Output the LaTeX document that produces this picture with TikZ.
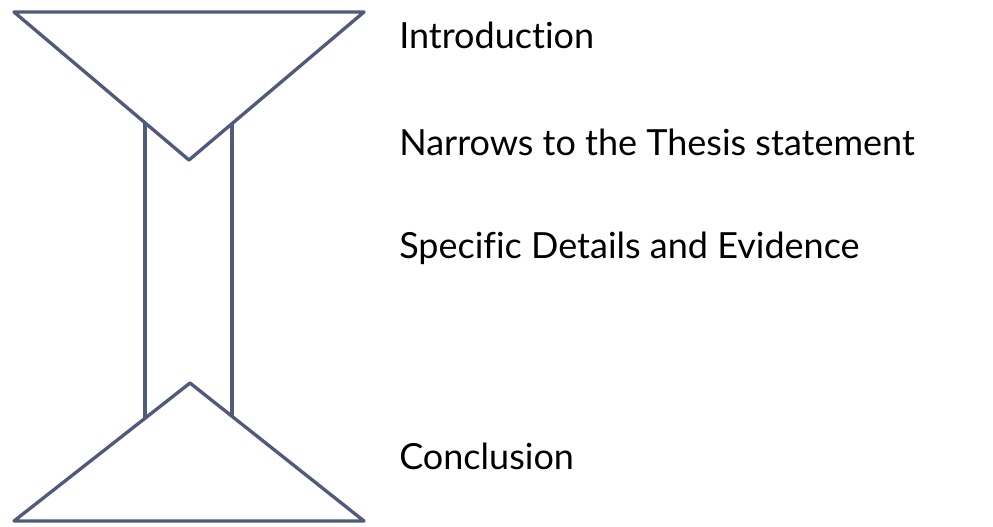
\documentclass[tikz,border=0pt]{standalone}
\usepackage{fontspec}
\setmainfont[Ligatures={NoCommon}]{Lato}
\usetikzlibrary{positioning,calc}

\definecolor{slate}{RGB}{80,90,122}

\begin{document}
\begin{tikzpicture}[x=0.75pt,y=-0.75pt,
  shape line/.style={draw=slate,line width=2.5pt,line join=round},
  label text/.style={anchor=base west,inner sep=0pt,font=\fontsize{27}{31}\selectfont}]
\useasboundingbox (0,0) rectangle (993,526);
% ---- imbuto superiore ----
\coordinate (topL) at (14,12);
\coordinate (topR) at (364,12);
\coordinate (topV) at (189,160);
\draw[shape line] (topL)--(topR)--(topV)--cycle;
% ---- imbuto inferiore ----
\coordinate (botL) at (14,521);
\coordinate (botR) at (364,521);
\coordinate (botV) at (190,383);
\draw[shape line] (botL)--(botR)--(botV)--cycle;
% ---- corpo centrale ----
\draw[shape line] (145,123)--(145,418);
\draw[shape line] (232,123)--(232,416);
% ---- etichette ----
\node[label text] (intro) at (399,48) {Introduction};
\node[label text] (thesis) at (399,155) {Narrows to the Thesis statement};
\node[label text] (details) at (399,258) {Specific Details and Evidence};
\node[label text] (concl) at (399,469) {Conclusion};
\end{tikzpicture}
\end{document}
